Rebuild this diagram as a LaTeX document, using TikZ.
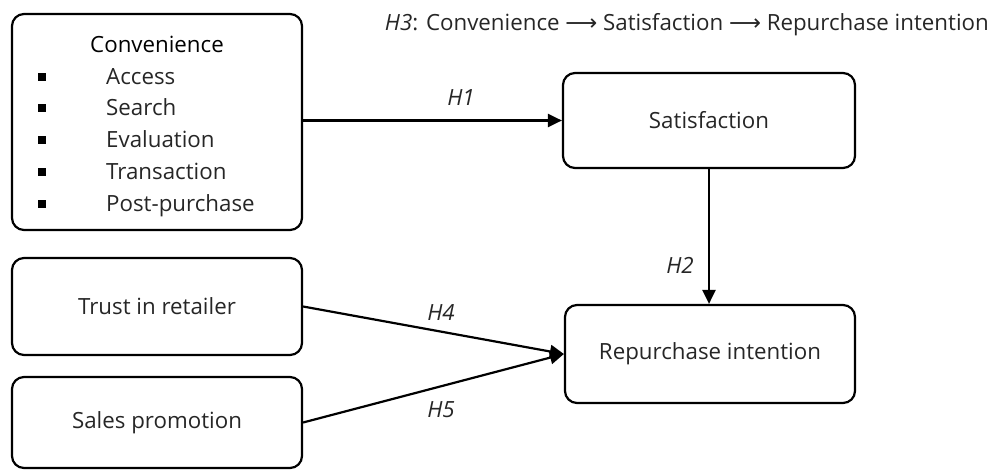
\documentclass[tikz,border=0pt]{standalone}
\usepackage{fontspec}
\setmainfont{Open Sans}
\newfontfamily\symfont{DejaVu Sans}
\usetikzlibrary{arrows.meta}
\begin{document}
\begin{tikzpicture}[x=1pt,y=-1pt,
  box/.style={draw, line width=2.2pt, rounded corners=12pt, inner sep=0pt},
  txt/.style={font=\fontsize{22.3}{26}\selectfont, text=black!85, inner sep=0pt},
  item/.style={txt, anchor=west, text height=16pt, text depth=5pt},
  hyp/.style={font=\fontsize{22.3}{26}\selectfont\itshape, text=black!85, inner sep=0pt},
  conn/.style={line width=2.2pt, -{Triangle[length=14pt,width=13pt]}}]
\useasboundingbox (0,0) rectangle (995,470);
\node[box, minimum width=290pt, minimum height=216pt] (conv) at (157,122) {};
\node[box, minimum width=292pt, minimum height=95pt] (sat) at (709,120.5) {};
\node[box, minimum width=290pt, minimum height=98pt] (rep) at (710,354) {};
\node[box, minimum width=290pt, minimum height=97pt] (trust) at (157,306.5) {};
\node[box, minimum width=290pt, minimum height=91pt] (sales) at (157,422.5) {};
\node[txt, text=black, text height=16pt, text depth=5pt] (convt) at (157,47) {Convenience};
\foreach \i/\t/\y in {1/Access/79,2/Search/110,3/Evaluation/142,4/Transaction/174,5/Post-purchase/206}{
  \node[fill=black, minimum size=7.5pt, inner sep=0pt] (b\i) at (42,\y-2) {};
  \node[item] (it\i) at (106,\y) {\t};
}
\node[txt] (satt) at (sat.center) {Satisfaction};
\node[txt] (rept) at (rep.center) {Repurchase intention};
\node[txt] (trustt) at (trust.center) {Trust in retailer};
\node[txt] (salest) at (sales.center) {Sales promotion};
\node[txt, anchor=east] (h3) at (989,25) {\textit{H3}: Convenience {\symfont ⟶} Satisfaction {\symfont ⟶} Repurchase intention};
\draw[conn] (conv.east |- sat.west) -- (sat.west);
\draw[conn] (sat.south) -- (sat.south |- rep.north);
\draw[conn] (trust.east) -- (rep.west);
\draw[conn] (sales.east) -- (rep.west);
\node[hyp] (h1) at (461,98) {H1};
\node[hyp] (h2) at (680,265) {H2};
\node[hyp] (h4) at (441,313) {H4};
\node[hyp] (h5) at (441,410) {H5};
\end{tikzpicture}
\end{document}
